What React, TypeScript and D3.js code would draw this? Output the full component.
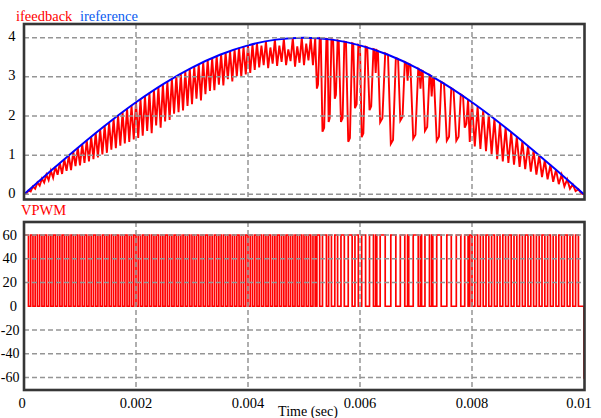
import React from "react";
import * as d3 from "d3";

// ---------- data (time in ms) ----------
const timeTicks = [0, 2, 4, 6, 8, 10];
const timeTickLabels = ["0", "0.002", "0.004", "0.006", "0.008", "0.01"];
const timeGrid = [2, 4, 6, 8];
const currentTicks = [0, 1, 2, 3, 4];
const voltageTicks = [60, 40, 20, 0, -20, -40, -60];

const refTime = [0, 0.5, 1, 1.5, 2, 2.5, 3, 3.5, 4, 4.5, 5, 5.5, 6, 6.5, 7, 7.5, 8, 8.5, 9, 9.5, 10];
const refCurrent = [0, 0.626, 1.236, 1.816, 2.351, 2.828, 3.236, 3.564, 3.804, 3.951, 4.0, 3.951, 3.804, 3.564, 3.236, 2.828, 2.351, 1.816, 1.236, 0.626, 0];

const fbTime = [
  0, 0.04, 0.08, 0.12, 0.16, 0.2, 0.24, 0.28, 0.32, 0.36, 0.4, 0.44, 0.48, 0.52, 0.56, 0.6, 0.64, 0.68, 0.72, 0.76,
  0.8, 0.84, 0.88, 0.92, 0.96, 1.0, 1.04, 1.08, 1.12, 1.16, 1.2, 1.24, 1.28, 1.32, 1.36, 1.4, 1.44, 1.48, 1.52, 1.56,
  1.6, 1.64, 1.68, 1.72, 1.76, 1.8, 1.84, 1.88, 1.92, 1.96, 2.0,
  2.04, 2.08, 2.12, 2.16, 2.2, 2.24, 2.28, 2.32, 2.36, 2.4, 2.44, 2.48, 2.52, 2.56, 2.6, 2.64, 2.68, 2.72, 2.76, 2.8,
  2.84, 2.88, 2.92, 2.96, 3.0, 3.04, 3.08, 3.12, 3.16, 3.2, 3.24, 3.28, 3.32, 3.36, 3.4, 3.44, 3.48, 3.52, 3.56, 3.6,
  3.64, 3.68, 3.72, 3.76, 3.8, 3.84, 3.88, 3.92, 3.96, 4.0, 4.04, 4.08, 4.12, 4.16,
  4.2, 4.24, 4.28, 4.32, 4.36, 4.4, 4.44, 4.48, 4.52, 4.56, 4.6, 4.64, 4.68, 4.72, 4.76, 4.8, 4.84, 4.88, 4.92, 4.96,
  5.0, 5.04, 5.08, 5.12, 5.16, 5.2,
  5.23, 5.25, 5.28, 5.3, 5.33, 5.36, 5.4, 5.42, 5.44, 5.46, 5.49, 5.52, 5.55, 5.57, 5.6, 5.62, 5.66, 5.69, 5.72,
  5.75, 5.79, 5.82, 5.86, 5.88, 5.91, 5.94, 5.97, 6.0, 6.03, 6.06, 6.1, 6.13, 6.17, 6.2, 6.24, 6.26, 6.28, 6.3,
  6.32, 6.36, 6.4, 6.45, 6.5, 6.55, 6.59, 6.64, 6.68, 6.72, 6.76, 6.8, 6.83, 6.85, 6.87, 6.9, 6.95, 6.99, 7.04,
  7.06, 7.08, 7.1, 7.12, 7.16, 7.2, 7.24, 7.26, 7.28, 7.3, 7.32, 7.37, 7.41, 7.45, 7.5, 7.55, 7.59, 7.63,
  7.67, 7.72, 7.76, 7.8, 7.84, 7.87, 7.9, 7.93,
  7.96, 8.0, 8.05, 8.1, 8.15, 8.2, 8.25, 8.3, 8.35, 8.4, 8.45, 8.5, 8.55, 8.6, 8.65, 8.7, 8.75, 8.8, 8.85, 8.9,
  8.95, 9.0, 9.05, 9.1, 9.15, 9.2, 9.25, 9.3, 9.35, 9.4, 9.45, 9.5, 9.55, 9.6, 9.65, 9.7, 9.75, 9.8, 9.85, 9.9, 9.95, 10.0,
];
const fbCurrent = [
  0, 0.01, 0.1, 0.07, 0.2, 0.14, 0.3, 0.22, 0.4, 0.3, 0.5, 0.36, 0.6, 0.42, 0.7, 0.5, 0.8, 0.52, 0.9, 0.6,
  0.99, 0.62, 1.09, 0.72, 1.19, 0.74, 1.28, 0.8, 1.38, 0.84, 1.47, 0.9, 1.57, 0.94, 1.66, 1.02, 1.75, 1.06, 1.84, 1.14,
  1.93, 1.18, 2.01, 1.24, 2.1, 1.3, 2.19, 1.34, 2.27, 1.4, 2.35,
  1.44, 2.43, 1.5, 2.51, 1.62, 2.59, 1.56, 2.66, 1.76, 2.74, 1.7, 2.81, 1.86, 2.88, 1.9, 2.95, 2.06, 3.02, 2.1, 3.08,
  2.14, 3.14, 2.26, 3.21, 2.3, 3.26, 2.44, 3.32, 2.4, 3.38, 2.56, 3.43, 2.64, 3.48, 2.66, 3.53, 2.8, 3.58, 2.78, 3.62,
  2.94, 3.66, 2.88, 3.7, 3.02, 3.74, 3.0, 3.77, 3.06, 3.8, 3.1, 3.83, 3.18, 3.86,
  3.24, 3.8, 3.3, 3.91, 3.22, 3.75, 3.34, 3.95, 3.28, 3.8, 3.38, 3.97, 3.3, 3.7, 3.4, 3.99, 3.26, 3.78, 3.36, 4.0,
  3.3, 3.85, 3.42, 3.99, 3.3, 3.99,
  2.7, 2.8, 3.99, 3.98, 1.6, 1.7, 3.97, 3.96, 1.85, 1.95, 3.96, 3.95, 2.44, 2.54, 3.93, 3.92, 1.85, 1.95, 3.9,
  3.89, 1.34, 1.44, 3.86, 3.85, 2.2, 2.3, 3.82, 3.8, 1.46, 1.56, 3.77, 3.75, 2.15, 2.25, 3.71, 3.7, 3.1, 3.68,
  3.66, 1.84, 1.94, 3.6, 3.56, 1.29, 1.39, 3.48, 3.46, 1.88, 1.98, 3.38, 3.36, 2.9, 3.33, 3.31, 1.42, 1.52, 3.21,
  3.19, 2.7, 3.16, 3.15, 1.62, 1.72, 3.05, 3.03, 2.5, 2.99, 2.98, 1.37, 1.47, 2.87, 2.83, 1.37, 1.47, 2.71,
  2.67, 1.37, 1.47, 2.55, 2.51, 1.7, 1.8, 2.42,
  1.34, 2.35, 1.22, 2.25, 1.16, 2.14, 1.1, 2.04, 1.02, 1.93, 0.9, 1.82, 0.84, 1.7, 0.8, 1.59, 0.76, 1.47, 0.7, 1.36,
  0.64, 1.24, 0.58, 1.12, 0.5, 1.0, 0.44, 0.87, 0.38, 0.75, 0.32, 0.63, 0.26, 0.5, 0.2, 0.38, 0.14, 0.25, 0.08, 0.13, 0.02, 0,
];
const pwmHigh = 60;
const pwmLow = 0;
const pwmEndValue = -61;

const RED = "#ff0000";
const BLUE = "#0000ff";
const FRAME = "#363636";
const GRID = "#959595";
const FONT = "Liberation Serif, DejaVu Serif, serif";

export default function App() {
  const x = d3.scaleLinear().domain([0, 10]).range([24, 584]);
  const yI = d3.scaleLinear().domain([0, 4]).range([194.3, 37.7]);
  const yV = d3.scaleLinear().domain([-60, 60]).range([377.5, 235]);

  const topPanel = { x0: 24, x1: 584.5, y0: 24, y1: 199.5 };
  const botPanel = { x0: 24, x1: 584.5, y0: 222, y1: 390 };

  const n = Math.min(fbTime.length, fbCurrent.length);
  const fbIdx = d3.range(n);

  const refPath = d3
    .line<number>()
    .x((_, i) => x(refTime[i]))
    .y((d) => yI(d))
    .curve(d3.curveMonotoneX)(refCurrent) as string;

  const fbPath = d3
    .line<number>()
    .x((i) => x(fbTime[i]))
    .y((i) => yI(fbCurrent[i]))(fbIdx) as string;

  // VPWM: high while the feedback current rises, low otherwise
  const pwmPts: [number, number][] = [];
  for (let i = 0; i < n - 1; i++) {
    pwmPts.push([fbTime[i], fbCurrent[i + 1] > fbCurrent[i] ? pwmHigh : pwmLow]);
  }
  pwmPts.push([fbTime[n - 1], pwmLow]);
  const pwmPath =
    (d3
      .line<[number, number]>()
      .x((d) => x(d[0]))
      .y((d) => yV(d[1]))
      .curve(d3.curveStepAfter)(pwmPts) as string) +
    `L${x(10)},${yV(pwmEndValue)}`;

  const dash = "5,3";
  const txt = (size: number, fill: string) => ({ fontFamily: FONT, fontSize: size, fill });

  return (
    <svg width={601} height={418} style={{ position: "absolute", left: 0, top: 0, background: "#fff" }}>
      <rect x={0} y={0} width={601} height={418} fill="#fff" />
      {/* data top */}
      <path d={fbPath} fill="none" stroke={RED} strokeWidth={1.9} />
      <path d={refPath} fill="none" stroke={BLUE} strokeWidth={2} />
      {/* data bottom */}
      <path d={pwmPath} fill="none" stroke={RED} strokeWidth={1.7} />

      {/* grids top */}
      {currentTicks.map((v) => (
        <line key={"hg" + v} x1={topPanel.x0} x2={topPanel.x1} y1={yI(v)} y2={yI(v)} stroke={GRID} strokeWidth={1.5} strokeDasharray={dash} />
      ))}
      {timeGrid.map((t) => (
        <line key={"vgt" + t} x1={x(t)} x2={x(t)} y1={topPanel.y0} y2={topPanel.y1} stroke={GRID} strokeWidth={1.5} strokeDasharray={dash} />
      ))}
      {/* grids bottom */}
      {voltageTicks.filter((v) => v !== 0).map((v) => (
        <line key={"hgb" + v} x1={botPanel.x0} x2={botPanel.x1} y1={yV(v)} y2={yV(v)} stroke={GRID} strokeWidth={1.5} strokeDasharray={dash} />
      ))}
      {timeGrid.map((t) => (
        <line key={"vgb" + t} x1={x(t)} x2={x(t)} y1={botPanel.y0} y2={botPanel.y1} stroke={GRID} strokeWidth={1.5} strokeDasharray={dash} />
      ))}

      {/* frames */}
      <rect x={topPanel.x0} y={topPanel.y0} width={topPanel.x1 - topPanel.x0} height={topPanel.y1 - topPanel.y0} fill="none" stroke={FRAME} strokeWidth={2.6} />
      <rect x={botPanel.x0} y={botPanel.y0} width={botPanel.x1 - botPanel.x0} height={botPanel.y1 - botPanel.y0} fill="none" stroke={FRAME} strokeWidth={2.6} />

      {/* y tick labels */}
      {currentTicks.map((v) => (
        <text key={"yl" + v} x={15.5} y={yI(v) + 3.5} textAnchor="end" style={txt(14.5, "#000")}>
          {v}
        </text>
      ))}
      {voltageTicks.map((v) => (
        <text key={"yv" + v} x={v < 0 ? 19.5 : 17} y={yV(v) + 4.5} textAnchor="end" style={txt(v < 0 ? 14 : 14.5, "#000")}>
          {v}
        </text>
      ))}

      {/* x tick labels */}
      {timeTicks.map((t, i) => (
        <text
          key={"xl" + t}
          x={x(t) + (i === 0 ? -2 : i === timeTicks.length - 1 ? -5 : 0)}
          y={408}
          textAnchor="middle"
          style={txt(14.5, "#000")}
        >
          {timeTickLabels[i]}
        </text>
      ))}
      <text x={308} y={416} textAnchor="middle" style={txt(14, "#000")}>
        Time (sec)
      </text>

      {/* legends */}
      <text x={16} y={21} style={txt(14.5, RED)}>
        ifeedback
      </text>
      <text x={80} y={21} style={txt(14.5, "#0a5cf0")}>
        ireference
      </text>
      <text x={21} y={215} style={txt(14.5, RED)}>
        VPWM
      </text>
    </svg>
  );
}
